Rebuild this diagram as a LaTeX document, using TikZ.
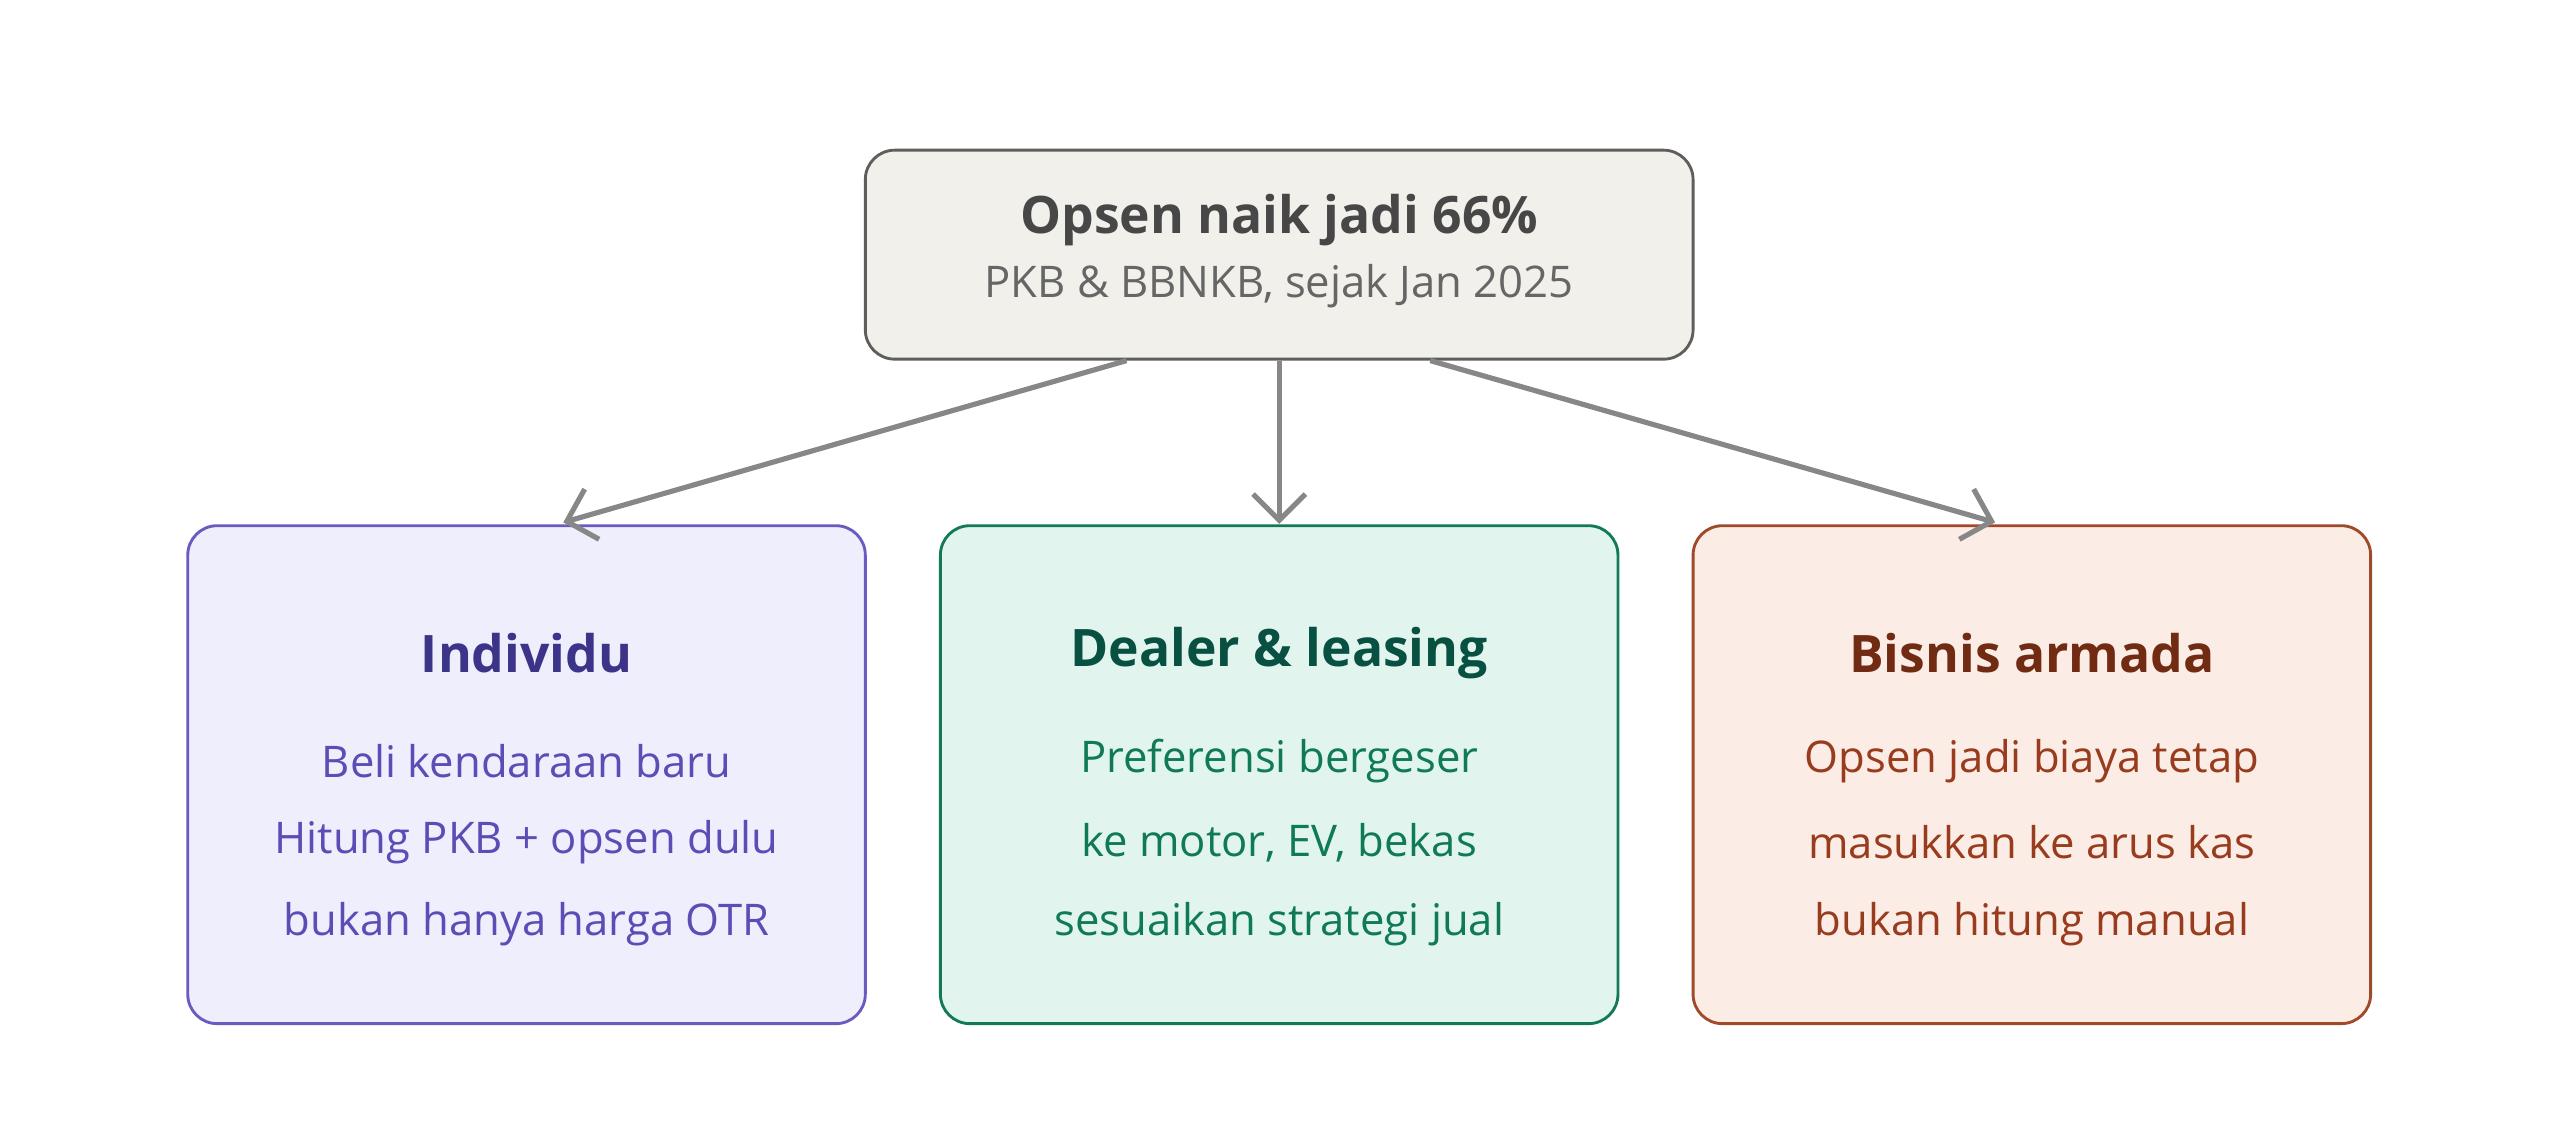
\documentclass[tikz,border=0pt]{standalone}
\usepackage{fontspec}
\setmainfont{Open Sans}
\usetikzlibrary{arrows.meta}
\definecolor{topfill}{HTML}{F1F0EA}
\definecolor{topdraw}{HTML}{5F5E5A}
\definecolor{indfill}{HTML}{EEEEFD}
\definecolor{inddraw}{HTML}{6A5BC0}
\definecolor{indhead}{HTML}{3C3489}
\definecolor{indtext}{HTML}{5A4DB5}
\definecolor{dlrfill}{HTML}{E1F5EE}
\definecolor{dlrdraw}{HTML}{137A55}
\definecolor{dlrhead}{HTML}{085041}
\definecolor{dlrtext}{HTML}{0F7A55}
\definecolor{armfill}{HTML}{FBECE6}
\definecolor{armdraw}{HTML}{A04A2A}
\definecolor{armhead}{HTML}{712B13}
\definecolor{armtext}{HTML}{993C1D}
\begin{document}
\begin{tikzpicture}[
		box/.style={rectangle, rounded corners=0.18cm, line width=0.5pt},
		head/.style={font=\fontsize{9}{11}\selectfont\bfseries},
		line/.style={font=\fontsize{7.6}{9}\selectfont},
		arrow/.style={draw=black!47, line width=0.9pt, -{Straight Barb[length=1.6mm, width=3.2mm]}}
	]
  \useasboundingbox (0cm, 0cm) rectangle (15.68cm, 6.91cm);
  % top box
  \node (top) [box, fill=topfill, draw=topdraw, minimum width=5.07cm, minimum height=1.28cm] at (7.835cm, 5.35cm) {};
  \node (top_title) [head, text=black!72] at (7.835cm, 5.56cm) {Opsen naik jadi 66\%};
  \node (top_sub) [line, text=black!60] at (7.835cm, 5.16cm) {PKB \& BBNKB, sejak Jan 2025};
  % bottom boxes
  \node (ind) [box, fill=indfill, draw=inddraw, minimum width=4.15cm, minimum height=3.05cm] at (3.225cm, 2.165cm) {};
  \node (dlr) [box, fill=dlrfill, draw=dlrdraw, minimum width=4.15cm, minimum height=3.05cm] at (7.835cm, 2.165cm) {};
  \node (arm) [box, fill=armfill, draw=armdraw, minimum width=4.15cm, minimum height=3.05cm] at (12.445cm, 2.165cm) {};
  \node (ind_head) [head, text=indhead] at (3.225cm, 2.91cm) {Individu};
  \node (ind_a) [line, text=indtext] at (3.225cm, 2.25cm) {Beli kendaraan baru};
  \node (ind_b) [line, text=indtext] at (3.225cm, 1.75cm) {Hitung PKB + opsen dulu};
  \node (ind_c) [line, text=indtext] at (3.225cm, 1.25cm) {bukan hanya harga OTR};
  \node (dlr_head) [head, text=dlrhead] at (7.835cm, 2.91cm) {Dealer \& leasing};
  \node (dlr_a) [line, text=dlrtext] at (7.835cm, 2.25cm) {Preferensi bergeser};
  \node (dlr_b) [line, text=dlrtext] at (7.835cm, 1.75cm) {ke motor, EV, bekas};
  \node (dlr_c) [line, text=dlrtext] at (7.835cm, 1.25cm) {sesuaikan strategi jual};
  \node (arm_head) [head, text=armhead] at (12.445cm, 2.91cm) {Bisnis armada};
  \node (arm_a) [line, text=armtext] at (12.445cm, 2.25cm) {Opsen jadi biaya tetap};
  \node (arm_b) [line, text=armtext] at (12.445cm, 1.75cm) {masukkan ke arus kas};
  \node (arm_c) [line, text=armtext] at (12.445cm, 1.25cm) {bukan hitung manual};
  \coordinate (ind_in) at (3.45cm, 3.71cm);
  \coordinate (arm_in) at (12.22cm, 3.71cm);
  \draw [arrow] (top.south) ++(-0.935cm, 0) -- (ind_in);
  \draw [arrow] (top.south) -- ++(0, -1.0cm) coordinate (dlr_in);
  \draw [arrow] (top.south) ++(0.925cm, 0) -- (arm_in);
\end{tikzpicture}
\end{document}
